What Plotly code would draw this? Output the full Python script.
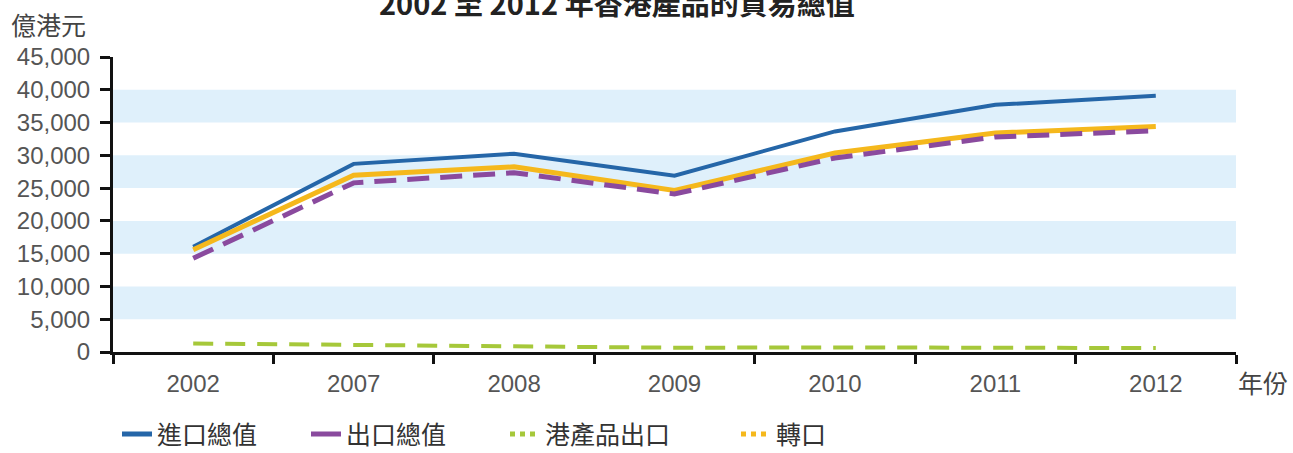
import plotly.graph_objects as go

# data (unit: 億港元)
years = ["2002", "2007", "2008", "2009", "2010", "2011", "2012"]
imports_total = [16050, 28700, 30250, 26900, 33650, 37700, 39100]
exports_total = [14300, 25800, 27350, 24100, 29600, 32800, 33750]   # purple, dashed in the plot
domestic_exports = [1300, 1100, 950, 650, 700, 650, 600]
re_exports = [15600, 26950, 28250, 24650, 30350, 33400, 34400]       # yellow, solid in the plot

band_ranges = [(5000, 10000), (15000, 20000), (25000, 30000), (35000, 40000)]

colors = {
    "import": "#2566a8",
    "export": "#8a4a9e",
    "domestic": "#a6c83a",
    "re": "#f5b81c",
}

CJK = "Noto Sans CJK TC"
NUM = "Liberation Sans"

PLOT_L, PLOT_W = 113, 1123


def px_to_paper(px):
    return (px - PLOT_L) / PLOT_W


fig = go.Figure()

# plotted lines (as drawn in the reference)
fig.add_trace(go.Scatter(x=years, y=imports_total, mode="lines", showlegend=False,
                         line=dict(color=colors["import"], width=4)))
fig.add_trace(go.Scatter(x=years, y=re_exports, mode="lines", showlegend=False,
                         line=dict(color=colors["re"], width=5)))
fig.add_trace(go.Scatter(x=years, y=exports_total, mode="lines", showlegend=False,
                         line=dict(color=colors["export"], width=5, dash="22px,11px")))
fig.add_trace(go.Scatter(x=years, y=domestic_exports, mode="lines", showlegend=False,
                         line=dict(color=colors["domestic"], width=4, dash="20px,12px")))

# legend entries (styled like the reference legend), one legend box each
legend_items = [
    ("進口總值", colors["import"], "solid", "legend", 117),
    ("出口總值", colors["export"], "solid", "legend2", 306),
    ("港產品出口", colors["domestic"], "dot", "legend3", 505),
    ("轉口", colors["re"], "dot", "legend4", 736),
]
legend_layout = {}
for name, col, dash, lg, xpx in legend_items:
    fig.add_trace(go.Scatter(x=[None], y=[None], mode="lines", name=name, legend=lg,
                             line=dict(color=col, width=5, dash=dash)))
    legend_layout[lg] = dict(orientation="h", x=px_to_paper(xpx), xanchor="left",
                             y=-0.279, yanchor="middle", bgcolor="rgba(0,0,0,0)",
                             font=dict(family=CJK, size=25, color="#333333"))

shapes = []
for lo, hi in band_ranges:
    shapes.append(dict(type="rect", xref="paper", yref="y", x0=0, x1=1, y0=lo, y1=hi,
                       fillcolor="#dff0fb", line=dict(width=0), layer="below"))

fig.update_layout(
    width=1293, height=453,
    margin=dict(l=113, r=57, t=57, b=101, autoexpand=False),
    paper_bgcolor="white",
    plot_bgcolor="white",
    shapes=shapes,
    showlegend=True,
    xaxis=dict(type="category", range=[-0.5, len(years) - 0.5],
               showline=True, linecolor="#111111", linewidth=3,
               ticks="outside", tickson="boundaries", ticklen=9, tickwidth=3,
               tickcolor="#111111", showgrid=False, zeroline=False,
               tickfont=dict(family=NUM, size=24, color="#555555"),
               ticklabelstandoff=8),
    yaxis=dict(range=[0, 45000], dtick=5000, tickformat=",", showline=True,
               linecolor="#111111", linewidth=3, ticks="outside", ticklen=10,
               tickwidth=3, tickcolor="#111111", showgrid=False, zeroline=False,
               tickfont=dict(family=NUM, size=24, color="#555555"),
               ticklabelstandoff=5),
    annotations=[
        dict(text="<b>2002 至 2012 年香港產品的貿易總值</b>", xref="paper", yref="paper",
             x=px_to_paper(617), y=1.185, xanchor="center", yanchor="middle", showarrow=False,
             font=dict(family=CJK, size=29, color="#222222")),
        dict(text="億港元", xref="paper", yref="paper", x=-0.093, y=1.113,
             xanchor="left", yanchor="middle", showarrow=False,
             font=dict(family=CJK, size=25, color="#444444")),
        dict(text="年份", xref="paper", yref="paper", x=1.0, y=-0.1,
             xanchor="left", yanchor="middle", showarrow=False, xshift=0,
             font=dict(family=CJK, size=25, color="#444444")),
    ],
    **legend_layout,
)

# drop the browser's default body margin so the figure sits at the page corner
fig.write_html("out.html", config={"displayModeBar": False},
               post_script="document.body.style.margin='0';")
